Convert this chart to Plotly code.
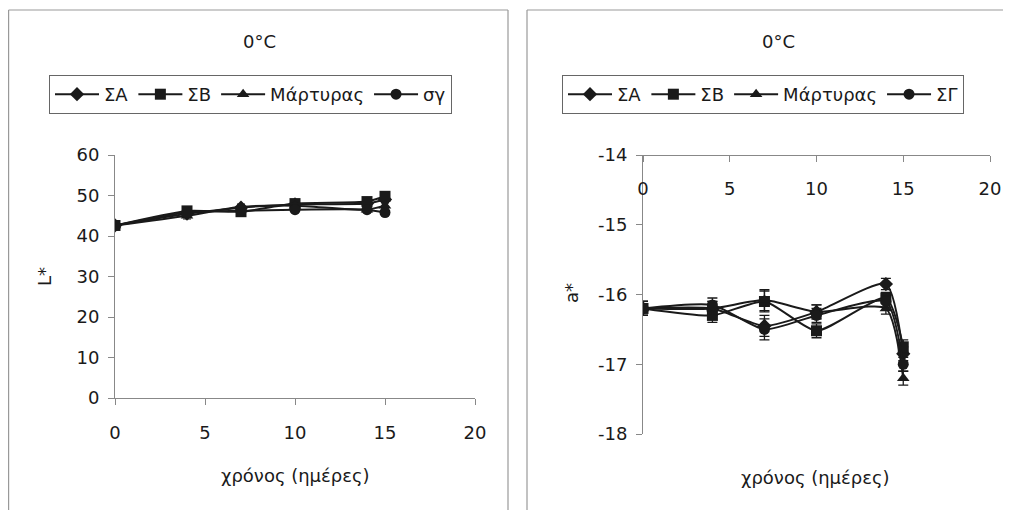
import plotly.graph_objects as go

days = [0, 4, 7, 10, 14, 15]
x_ticks = [0, 5, 10, 15, 20]

# Left chart: L*
L_names = ["ΣΑ", "ΣΒ", "Μάρτυρας", "σγ"]
L_SA = [42.6, 45.5, 47.0, 47.8, 48.0, 49.0]
L_SB = [42.6, 46.2, 46.0, 48.0, 48.5, 49.8]
L_M = [42.6, 45.0, 47.2, 47.5, 46.5, 47.5]
L_SG = [42.6, 45.8, 46.2, 46.5, 46.5, 45.8]
L_err = [0.6, 0.8, 0.7, 0.7, 0.7, 0.8]
L_ticks = [0, 10, 20, 30, 40, 50, 60]

# Right chart: a*
A_names = ["ΣΑ", "ΣΒ", "Μάρτυρας", "ΣΓ"]
A_SA = [-16.2, -16.2, -16.45, -16.25, -15.85, -16.85]
A_SB = [-16.2, -16.3, -16.1, -16.52, -16.05, -16.75]
A_M = [-16.2, -16.2, -16.08, -16.25, -16.2, -17.2]
A_SG = [-16.2, -16.15, -16.5, -16.3, -16.1, -17.0]
A_err = [0.1, 0.1, 0.15, 0.1, 0.08, 0.1]
A_ticks = [-18, -17, -16, -15, -14]
A_ticklabels = ["-18", "-17", "-16", "-15", "-14"]

symbols = ["diamond", "square", "triangle-up", "circle"]

FONT = "DejaVu Sans, Liberation Sans, sans-serif"
INK = "#1a1a1a"
AXC = "#888888"
BORDER = "#999999"

fig = go.Figure()

for name, ys, sym in zip(L_names, [L_SA, L_SB, L_M, L_SG], symbols):
    fig.add_trace(go.Scatter(
        x=days, y=ys, name=name, mode="lines+markers",
        line=dict(color=INK, width=2, shape="spline", smoothing=0.6),
        marker=dict(symbol=sym, size=11, color=INK),
        error_y=dict(type="data", array=L_err, color=INK, thickness=1.2, width=4),
        xaxis="x", yaxis="y", legend="legend",
    ))

for name, ys, sym in zip(A_names, [A_SA, A_SB, A_M, A_SG], symbols):
    fig.add_trace(go.Scatter(
        x=days, y=ys, name=name, mode="lines+markers",
        line=dict(color=INK, width=2, shape="spline", smoothing=0.6),
        marker=dict(symbol=sym, size=11, color=INK),
        error_y=dict(type="data", array=A_err, color=INK, thickness=1.3, width=5),
        xaxis="x2", yaxis="y2", legend="legend2",
    ))

# page body has an 8px margin: the figure is offset, so work in reference pixels minus 8
OFF = 8
W, H = 1011 - 2 * OFF, 510 - OFF
def px(x):
    return (x - OFF) / W
def py(y):
    return 1 - (y - OFF) / H

axis_common = dict(
    showgrid=False, zeroline=False, showline=True, linecolor=AXC, linewidth=1,
    ticks="outside", tickcolor=AXC, ticklen=6, tickwidth=1, automargin=False,
    tickfont=dict(family=FONT, size=18, color=INK),
)

legend_common = dict(
    orientation="h", xanchor="left", yanchor="top",
    bordercolor="#666666", borderwidth=1, bgcolor="rgba(0,0,0,0)",
    font=dict(family=FONT, size=18, color=INK),
    itemwidth=44, tracegroupgap=0,
)

fig.update_layout(
    template="none",
    width=W, height=H,
    margin=dict(l=0, r=0, t=0, b=0, pad=0),
    paper_bgcolor="white", plot_bgcolor="white",
    showlegend=True,
    xaxis=dict(domain=[px(115), px(475)], range=[0, 20], tickvals=x_ticks, anchor="y",
               ticklabelstandoff=12, **axis_common),
    yaxis=dict(domain=[py(398), py(155)], range=[0, 60], tickvals=L_ticks, anchor="x",
               ticklabelstandoff=5, **axis_common),
    xaxis2=dict(domain=[px(643), px(990)], range=[0, 20], tickvals=x_ticks, anchor="free",
                position=py(155), side="bottom", ticklabelstandoff=11, **axis_common),
    yaxis2=dict(domain=[py(434), py(155)], range=[-18, -14], tickvals=A_ticks,
                ticktext=A_ticklabels, anchor="x2", ticklabelstandoff=5, **axis_common),
    legend=dict(x=px(49), y=py(75), **legend_common),
    legend2=dict(x=px(562), y=py(75), **legend_common),
)

# panel borders (left panel: left, top, right edges; right panel: left and top edges)
border_line = dict(color=BORDER, width=1.2)
def seg(x0, y0, x1, y1):
    fig.add_shape(type="line", xref="paper", yref="paper",
                  x0=x0, y0=y0, x1=x1, y1=y1, line=border_line)

seg(0.6 / W, -0.02, 0.6 / W, py(10))
seg(0.6 / W, py(10), px(508), py(10))
seg(px(508), py(10), px(508), -0.02)
seg(px(527), -0.02, px(527), py(10))
seg(px(527), py(10), 1.0, py(10))

ann_font = dict(family=FONT, size=18, color=INK)
annotations = [
    dict(text="0°C", x=px(260), y=py(42)),
    dict(text="0°C", x=px(778), y=py(42)),
    dict(text="χρόνος (ημέρες)", x=px(295), y=py(475)),
    dict(text="χρόνος (ημέρες)", x=px(815), y=py(477)),
    dict(text="L*", x=px(44), y=py(277), textangle=-90),
    dict(text="a*", x=px(571), y=py(293), textangle=-90),
]
for a in annotations:
    fig.add_annotation(xref="paper", yref="paper", showarrow=False,
                       xanchor="center", yanchor="middle", font=ann_font, **a)

fig.write_html("out.html")
